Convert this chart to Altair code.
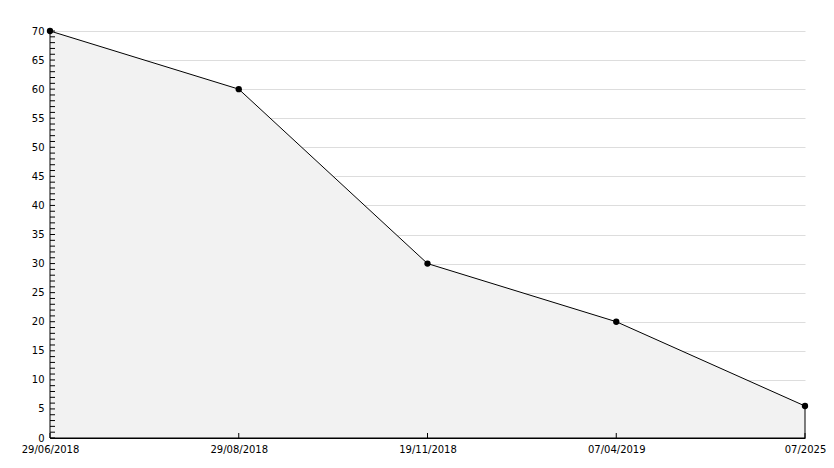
import altair as alt
import pandas as pd

dates = ["29/06/2018", "29/08/2018", "19/11/2018", "07/04/2019", "07/2025"]
values = [70, 60, 30, 20, 5.5]
minor_ticks = list(range(0, 71))
major_ticks = list(range(0, 71, 5))

df = pd.DataFrame({"date": dates, "value": values})
ticks_df = pd.DataFrame({"t": minor_ticks})

y_scale = alt.Scale(domain=[0, 70], nice=False)
y_axis = alt.Axis(title=None, values=major_ticks, tickCount=15, grid=True,
                  gridColor="#dddddd", ticks=False, domainColor="black",
                  labelFont="DejaVu Sans", labelFontSize=10,
                  labelColor="black", labelPadding=6,
                  labelOverlap=False, labelFlush=False)
x_axis = alt.Axis(title=None, labelAngle=0, grid=False, ticks=False,
                  domainColor="black", labelFont="DejaVu Sans",
                  labelFontSize=10, labelColor="black", labelPadding=6,
                  labelOverlap=False)
x_enc = alt.X("date:N", sort=None, scale=alt.Scale(type="point", padding=0),
              axis=x_axis)
y_enc = alt.Y("value:Q", scale=y_scale, axis=y_axis)

area = alt.Chart(df).mark_area(fill="#f2f2f2", stroke="black", strokeWidth=1,
                               line=False).encode(x=x_enc, y=y_enc)

pts = alt.Chart(df).mark_point(shape="circle", filled=True, color="black",
                               size=40, opacity=1).encode(
    x=alt.X("date:N", sort=None, axis=x_axis),
    y=alt.Y("value:Q", scale=y_scale, axis=y_axis))

yt = alt.Chart(ticks_df).mark_rule(color="black", strokeWidth=1).encode(
    y=alt.Y("t:Q", scale=y_scale, axis=y_axis), x=alt.value(0), x2=alt.value(5))

xt = alt.Chart(df).mark_rule(color="black", strokeWidth=1).encode(
    x=alt.X("date:N", sort=None, axis=x_axis), y=alt.value(407), y2=alt.value(402))

chart = alt.layer(area, yt, xt, pts).properties(
    width=755, height=407,
    autosize=alt.AutoSizeParams(type="none"),
    padding={"left": 42, "top": 23, "right": 21, "bottom": 22},
    background="white",
).configure_view(stroke=None)

chart.save("out.html", embed_options={"renderer": "svg", "actions": False})
